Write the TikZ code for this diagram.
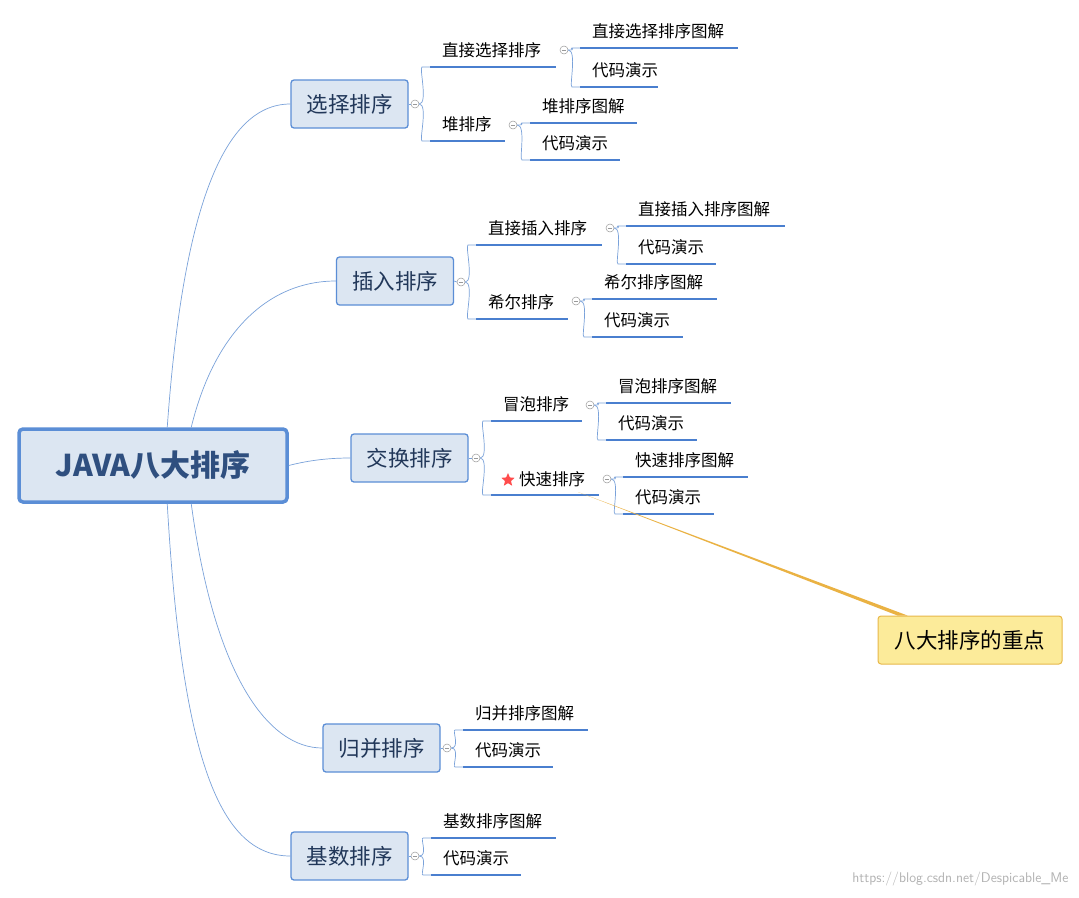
\documentclass[tikz,border=0pt]{standalone}
\usepackage{fontspec}
\setmainfont{Noto Sans CJK SC}
\usetikzlibrary{shapes.geometric}
\definecolor{bfill}{HTML}{DCE6F2}
\definecolor{bdraw}{HTML}{5B8ED6}
\definecolor{ulc}{HTML}{4A7FCF}
\definecolor{brc}{HTML}{7AA2DA}
\definecolor{tdark}{HTML}{2F4F7F}
\definecolor{cfill}{HTML}{FCEB9A}
\definecolor{cdraw}{HTML}{E8B84A}
\tikzset{
 x=1pt,y=-1pt,
 l1/.style={draw=bdraw,fill=bfill,rounded corners=3pt,line width=1.3pt,minimum width=117pt,minimum height=48pt,font=\fontsize{21.5}{21.5}\selectfont,text=tdark!70!black},
 br/.style={draw=brc,line width=0.7pt},
 ul/.style={draw=ulc,line width=2pt},
 lt/.style={font=\fontsize{16.5}{17}\selectfont,text=black,anchor=west,inner sep=0pt},
 col/.style={circle,draw=gray!80,line width=0.5pt,minimum size=8pt,inner sep=0pt,fill=white,
   path picture={\draw[gray!80,line width=0.6pt]([xshift=-2.2pt]path picture bounding box.center)--([xshift=2.2pt]path picture bounding box.center);}},
}
\newcommand\leaf[5]{\coordinate (#1) at (#2,#4);\draw[ul] (#1) -- (#3,#4);\node[lt] (#1t) at (#2+12,#4-17) {#5};}
\begin{document}
\begin{tikzpicture}
\useasboundingbox (0,0) rectangle (1079,897);
\fill[white] (0,0) rectangle (1079,897);
% root
\node[draw=bdraw,fill=bfill,rounded corners=4pt,line width=3.5pt,minimum width=268pt,minimum height=73pt,font=\fontsize{30}{30}\selectfont\bfseries,text=tdark] (root) at (153,465.5) {JAVA八大排序};
% level 1
\node[l1] (s) at (349.5,104) {选择排序};
\node[l1] (i) at (395,281) {插入排序};
\node[l1] (e) at (409.5,458) {交换排序};
\node[l1] (m) at (381.5,748) {归并排序};
\node[l1] (r) at (349.5,856) {基数排序};
\draw[br] ([xshift=150pt]root.north west) .. controls (182,220) and (220,104) .. (s.west);
\draw[br] ([xshift=174pt]root.north west) .. controls (215,330) and (270,281) .. (i.west);
\draw[br] (root.east) .. controls (310,460) and (330,458) .. (e.west);
\draw[br] ([xshift=174pt]root.south west) .. controls (215,680) and (270,748) .. (m.west);
\draw[br] ([xshift=150pt]root.south west) .. controls (182,760) and (220,856) .. (r.west);
% collapse circles
\node[col] (cs) at (415,104) {};
\node[col] (ci) at (461,282) {};
\node[col] (ce) at (476,458) {};
\node[col] (cm) at (447,748) {};
\node[col] (cr) at (415,856) {};
\foreach \a/\b in {s/cs,i/ci,e/ce,m/cm,r/cr}{\draw[br] (\a.east) -- (\b.west);}
% selection
\leaf{s1}{430}{556}{67}{直接选择排序}
\leaf{s2}{430}{505}{141}{堆排序}
\node[col] (cs1) at (564,50) {};
\node[col] (cs2) at (513,125) {};
\leaf{s11}{580}{738}{48}{直接选择排序图解}
\leaf{s12}{580}{658}{87}{代码演示}
\leaf{s21}{530}{637}{123}{堆排序图解}
\leaf{s22}{530}{620}{160}{代码演示}
% insertion
\leaf{i1}{476}{602}{245}{直接插入排序}
\leaf{i2}{476}{568}{319}{希尔排序}
\node[col] (ci1) at (610,228) {};
\node[col] (ci2) at (576,301) {};
\leaf{i11}{626}{785}{226}{直接插入排序图解}
\leaf{i12}{626}{716}{264}{代码演示}
\leaf{i21}{592}{717}{299}{希尔排序图解}
\leaf{i22}{592}{683}{337}{代码演示}
% exchange
\leaf{e1}{491}{582}{421}{冒泡排序}
\coordinate (e2) at (491,495);\draw[ul] (e2) -- (599,495);
\node[lt] (e2t) at (519,479) {快速排序};
\node[star,star points=5,star point ratio=2.2,fill=red!70!white,minimum size=14pt,inner sep=0pt] (star) at (508,480) {};
\node[col] (ce1) at (590,405) {};
\node[col] (ce2) at (607,479) {};
\leaf{e11}{606}{731}{403}{冒泡排序图解}
\leaf{e12}{606}{697}{440}{代码演示}
\leaf{e21}{623}{748}{477}{快速排序图解}
\leaf{e22}{623}{714}{514}{代码演示}
% merge, radix
\leaf{m1}{463}{588}{730}{归并排序图解}
\leaf{m2}{463}{553}{767}{代码演示}
\leaf{r1}{431}{556}{838}{基数排序图解}
\leaf{r2}{431}{521}{875}{代码演示}
% branches
\foreach \c/\u in {cs/s1,cs/s2,ci/i1,ci/i2,ce/e1,ce/e2,cm/m1,cm/m2,cr/r1,cr/r2,
  cs1/s11,cs1/s12,cs2/s21,cs2/s22,ci1/i11,ci1/i12,ci2/i21,ci2/i22,ce1/e11,ce1/e12,ce2/e21,ce2/e22}{
  \draw[br] (\c.east) .. controls +(9,0) and +(-3,0) .. ([xshift=-8pt]\u) -- (\u);
}
% callout
\node[draw=cdraw,fill=cfill,rounded corners=3pt,line width=1pt,minimum width=184pt,minimum height=48pt,font=\fontsize{21.5}{21.5}\selectfont] (call) at (970,640) {八大排序的重点};
\coordinate (cp) at (578,492);
\fill[cdraw!90!orange] (cp) -- ([xshift=20pt]call.north west) -- ([xshift=30pt]call.north west) -- cycle;
\node[anchor=east,text=gray!60,font=\fontsize{14}{14}\selectfont\sffamily] (wm) at (1072,879) {https://blog.csdn.net/Despicable\_Me};
\end{tikzpicture}
\end{document}
